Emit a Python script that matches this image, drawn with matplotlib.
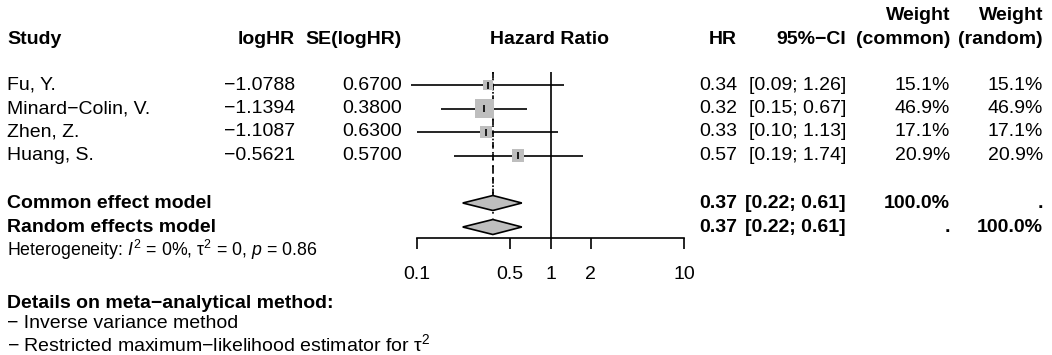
import numpy as np
import matplotlib
matplotlib.use('Agg')
import matplotlib.pyplot as plt
from matplotlib.ticker import NullLocator

plt.rcParams['font.family'] = ['Liberation Sans', 'DejaVu Sans']
plt.rcParams['mathtext.fontset'] = 'custom'
plt.rcParams['mathtext.rm'] = 'Liberation Sans'
plt.rcParams['mathtext.it'] = 'Liberation Sans:italic'

# --- data ---
studies = ['Fu, Y.', 'Minard\u2212Colin, V.', 'Zhen, Z.', 'Huang, S.']
log_hr = [-1.0788, -1.1394, -1.1087, -0.5621]
se_log_hr = [0.6700, 0.3800, 0.6300, 0.5700]
hr = [0.34, 0.32, 0.33, 0.57]
ci_lower = [0.09, 0.15, 0.10, 0.19]
ci_upper = [1.26, 0.67, 1.13, 1.74]
weight_common = [15.1, 46.9, 17.1, 20.9]
weight_random = [15.1, 46.9, 17.1, 20.9]

pooled_labels = ['Common effect model', 'Random effects model']
pooled_hr = [0.37, 0.37]
pooled_lower = [0.22, 0.22]
pooled_upper = [0.61, 0.61]
pooled_w_common = ['100.0%', '.']
pooled_w_random = ['.', '100.0%']

tick_values = [0.1, 0.5, 1, 2, 10]
tick_labels = ['0.1', '0.5', '1', '2', '10']

# --- layout (pixel coordinates) ---
W, H = 1052, 355
FS = 14
row_y = [85, 108.5, 132, 155.5]
pooled_y = [203, 227]
header_y = 40
x_study, x_log, x_se, x_hr, x_ci, x_wc, x_wr = 7, 295, 402, 737, 846, 950, 1043
gray = '#BEBEBE'

fig = plt.figure(figsize=(W / 100, H / 100), dpi=100)
ax = fig.add_axes([0, 0, 1, 1])
ax.set_xlim(0, W)
ax.set_ylim(H, 0)
ax.axis('off')

def txt(x, y, s, ha='left', bold=False, size=FS):
    ax.text(x, y, s, ha=ha, va='center', fontsize=size,
            fontweight='bold' if bold else 'normal')

# headers
txt(x_study, header_y, 'Study', bold=True)
txt(x_log, header_y, 'logHR', ha='right', bold=True)
txt(x_se, header_y, 'SE(logHR)', ha='right', bold=True)
txt(550, header_y, 'Hazard Ratio', ha='center', bold=True)
txt(x_hr, header_y, 'HR', ha='right', bold=True)
txt(x_ci, header_y, '95%\u2212CI', ha='right', bold=True)
txt(x_wc, 16, 'Weight', ha='right', bold=True)
txt(x_wc, header_y, '(common)', ha='right', bold=True)
txt(x_wr, 16, 'Weight', ha='right', bold=True)
txt(x_wr, header_y, '(random)', ha='right', bold=True)

def fmt(v, d):
    return f'{v:.{d}f}'.replace('-', '\u2212')

for i, y in enumerate(row_y):
    txt(x_study, y, studies[i])
    txt(x_log, y, fmt(log_hr[i], 4), ha='right')
    txt(x_se, y, fmt(se_log_hr[i], 4), ha='right')
    txt(x_hr, y, fmt(hr[i], 2), ha='right')
    txt(x_ci, y, f'[{ci_lower[i]:.2f}; {ci_upper[i]:.2f}]', ha='right')
    txt(x_wc, y, f'{weight_common[i]:.1f}%', ha='right')
    txt(x_wr, y, f'{weight_random[i]:.1f}%', ha='right')

for i, y in enumerate(pooled_y):
    txt(x_study, y, pooled_labels[i], bold=True)
    txt(x_hr, y, fmt(pooled_hr[i], 2), ha='right', bold=True)
    txt(x_ci, y, f'[{pooled_lower[i]:.2f}; {pooled_upper[i]:.2f}]', ha='right', bold=True)
    txt(x_wc, y, pooled_w_common[i], ha='right', bold=True)
    txt(x_wr, y, pooled_w_random[i], ha='right', bold=True)

txt(x_study, 250, r'Heterogeneity: $I^2$ = 0%, $\mathrm{\tau}^2$ = 0, $p$ = 0.86', size=12.8)
txt(x_study, 304, 'Details on meta\u2212analytical method:', bold=True)
txt(x_study, 324, '\u2212 Inverse variance method')
txt(x_study, 344, '\u2212 Restricted maximum\u2212likelihood estimator for $\\mathrm{\\tau}^2$')

# --- forest panel ---
fax = fig.add_axes([417 / W, 0, 267 / W, 1])
fax.set_xscale('log')
fax.set_xlim(0.1, 10)
fax.set_ylim(H, 0)
fax.patch.set_alpha(0)
for s in ['left', 'right', 'top']:
    fax.spines[s].set_visible(False)
fax.spines['bottom'].set_position(('data', 238))
fax.spines['bottom'].set_linewidth(1.2)
fax.set_yticks([])
fax.set_xticks(tick_values)
fax.set_xticklabels(tick_labels)
fax.xaxis.set_minor_locator(NullLocator())
fax.tick_params(axis='x', direction='out', length=8, width=1.2, pad=12, labelsize=FS)

top = 72
fax.vlines(1, top, 238, color='black', lw=1.2, zorder=1)
fax.vlines(pooled_hr[0], top, pooled_y[0] - 7.5, color='black', lw=1.2,
           linestyles=(0, (4, 3)), zorder=1)
fax.vlines(pooled_hr[1], top, pooled_y[1] - 7.5, color='black', lw=1.2,
           linestyles=(0, (1, 3)), zorder=1)

est = np.exp(log_hr)
fax.hlines(row_y, ci_lower, ci_upper, color='black', lw=1.2, zorder=2, clip_on=False)
side_pt = 19 * np.sqrt(np.array(weight_common) / max(weight_common)) * 0.72
fax.scatter(est, row_y, s=side_pt ** 2, marker='s', color=gray, lw=0, zorder=3)
fax.vlines(est, np.array(row_y) - 3.5, np.array(row_y) + 3.5, color='black', lw=1.2, zorder=4)

for i, y in enumerate(pooled_y):
    fax.fill([pooled_lower[i], pooled_hr[i], pooled_upper[i], pooled_hr[i]],
             [y, y - 7.5, y, y + 7.5], facecolor=gray, edgecolor='black', lw=1.2, zorder=3)

fig.savefig('out.png', dpi=100)
